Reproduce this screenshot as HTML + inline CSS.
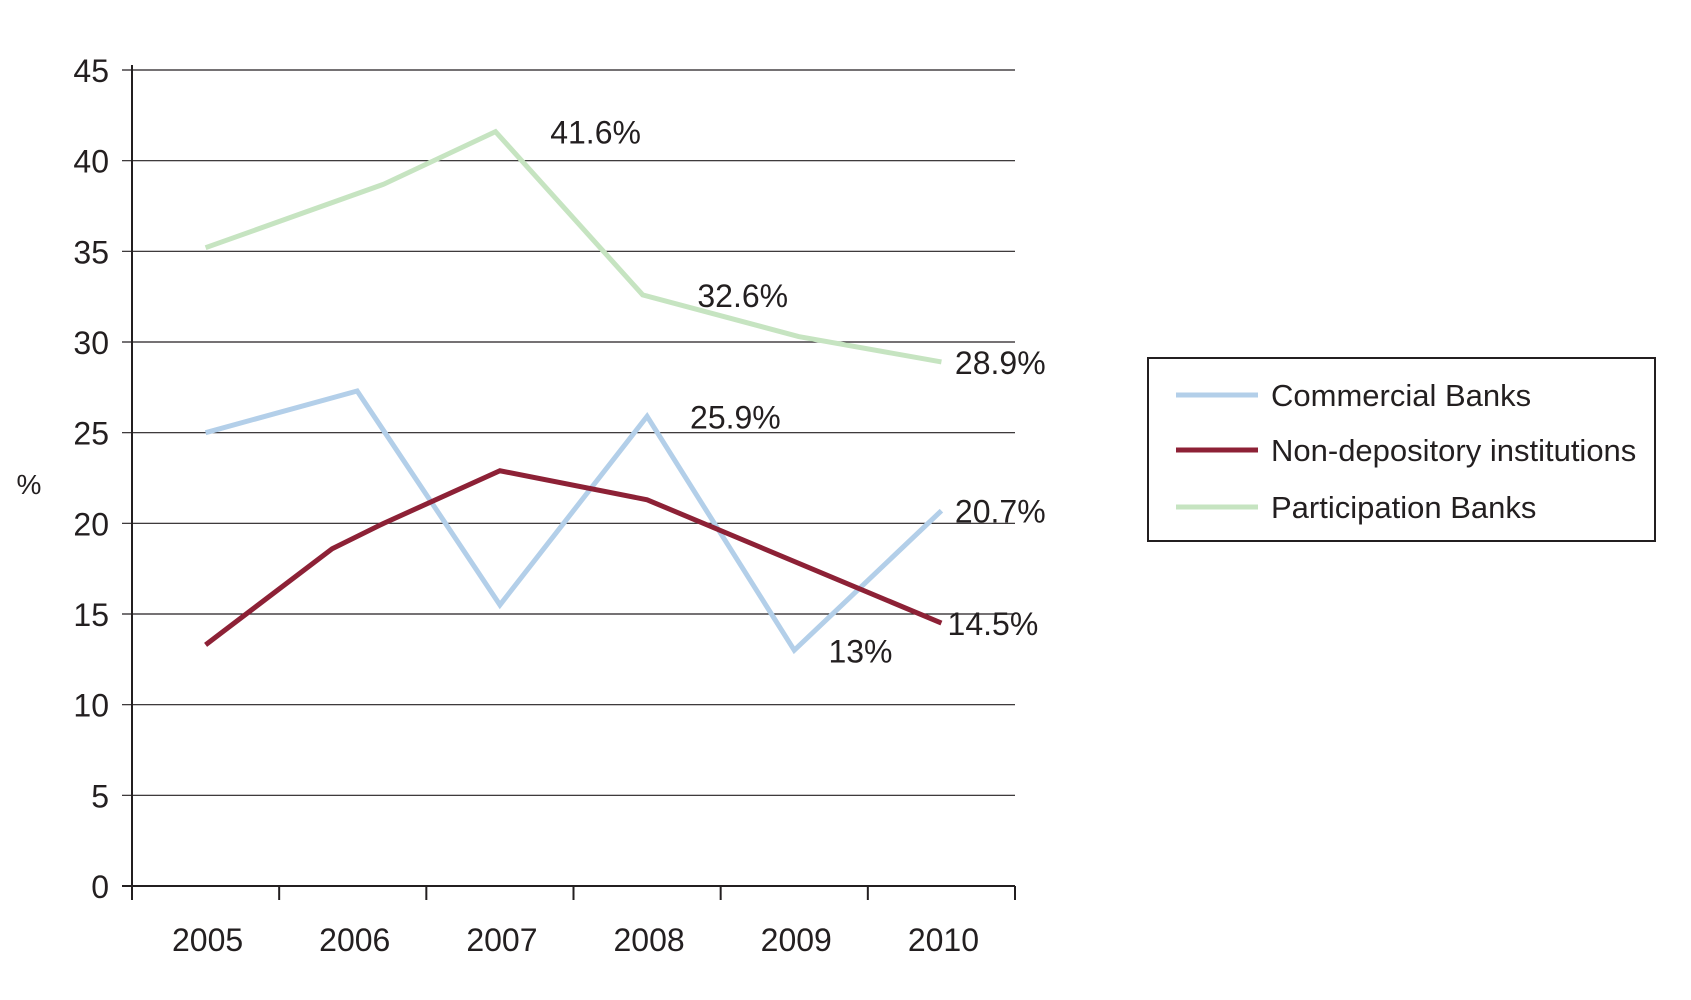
<!DOCTYPE html>
<html><head><meta charset="utf-8"><style>
body{margin:0;background:#fff;}
svg text{font-family:"Liberation Sans Narrow","Liberation Sans",sans-serif;fill:#231f20;}
</style></head><body>
<svg id="chart" width="1691" height="995" viewBox="0 0 1691 995"></svg>
<script>
const categories=["2005","2006","2007","2008","2009","2010"];
const yTicks=[0,5,10,15,20,25,30,35,40,45];
const greenX=[0,1.21,1.97,2.97,4.03,5];
const greenY=[35.2,38.7,41.6,32.6,30.3,28.9];
const blueX=[0,1.03,2.0,3.0,4.0,5];
const blueY=[25,27.3,15.5,25.9,13,20.7];
const redX=[0,0.86,1.21,2.0,3.0,5];
const redY=[13.3,18.6,20.0,22.9,21.3,14.5];
const annotations=["41.6%","32.6%","28.9%","25.9%","20.7%","14.5%","13%"];
const annX=[2.65,3.65,5.4,3.6,5.4,5.35,4.45];
const annY=[41.6,32.6,28.9,25.9,20.7,14.5,13];

const NS="http://www.w3.org/2000/svg";
const svg=document.getElementById('chart');
const L=132,R=1015,T=70,B=886;
const cw=(R-L)/categories.length;
const x=i=>L+cw*(i+0.5);
const y=v=>B-(v/45)*(B-T);
function mk(tag,attrs,parent){const e=document.createElementNS(NS,tag);for(const k in attrs)e.setAttribute(k,attrs[k]);(parent||svg).appendChild(e);return e;}

yTicks.forEach(v=>{
  const g=mk('line',{x1:L-10,x2:R,y1:y(v),y2:y(v),stroke:'#231f20','stroke-width':v===0?2:1.2});
  
  
  const t=mk('text',{x:109,y:y(v)+12,'text-anchor':'end','font-size':32});
  t.textContent=v;
  
  
});
const ax=mk('line',{x1:L,x2:L,y1:T-5,y2:B+12,stroke:'#231f20','stroke-width':2});


for(let i=0;i<=categories.length;i++){
  const tk=mk('line',{x1:L+cw*i,x2:L+cw*i,y1:B,y2:B+14,stroke:'#231f20','stroke-width':2});
  
  
}
categories.forEach((c,i)=>{
  const t=mk('text',{x:x(i)+2,y:951,'text-anchor':'middle','font-size':32});
  t.textContent=c;
  
  
});
const yt=mk('text',{x:29,y:494,'text-anchor':'middle','font-size':28});
yt.textContent='%';



function series(xs,ys,color,name){
  const p=mk('polyline',{points:xs.map((v,i)=>x(v)+','+y(ys[i])).join(' '),fill:'none',stroke:color,'stroke-width':5,'stroke-linejoin':'miter'});
  
  
}
series(greenX,greenY,'#c6e4c1','participation-banks-line');
series(blueX,blueY,'#b3cfe9','commercial-banks-line');
series(redX,redY,'#8d2136','non-depository-line');

annotations.forEach((a,i)=>{
  const t=mk('text',{x:x(annX[i]),y:y(annY[i])+12,'text-anchor':'middle','font-size':32});
  t.textContent=a;
  
  
});

const lg=mk('rect',{x:1148,y:358,width:507,height:183,fill:'#fff',stroke:'#231f20','stroke-width':2});


const legNames=["Commercial Banks","Non-depository institutions","Participation Banks"];
const legColors=['#b3cfe9','#8d2136','#c6e4c1'];
const legY=[395,450,507];
legNames.forEach((n,i)=>{
  const l=mk('line',{x1:1176,x2:1258,y1:legY[i],y2:legY[i],stroke:legColors[i],'stroke-width':5});
  
  
  const t=mk('text',{x:1271,y:legY[i]+11,'font-size':31});
  t.textContent=n;
  
  
});
</script>
</body></html>
